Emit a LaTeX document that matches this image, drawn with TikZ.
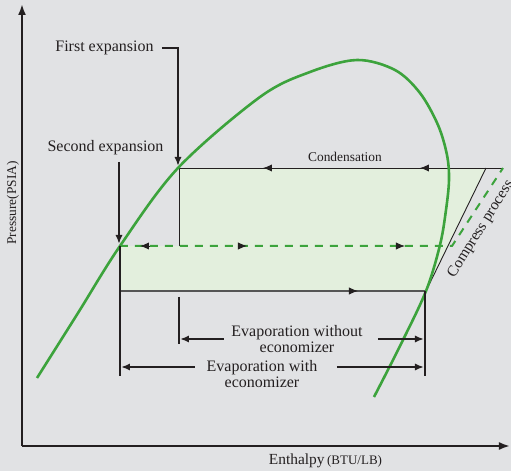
\documentclass[tikz,border=0pt]{standalone}
\usepackage{fontspec}
\setmainfont{Liberation Serif}
\usetikzlibrary{arrows.meta}
\definecolor{bg}{RGB}{225,226,228}
\definecolor{curvegreen}{RGB}{60,163,60}
\definecolor{fillgreen}{RGB}{227,239,221}
\definecolor{ink}{RGB}{35,31,32}
\definecolor{baseline}{RGB}{85,85,85}
\begin{document}
\begin{tikzpicture}[x=0.5pt,y=-0.5pt,
  lbl/.style={text=ink,inner sep=0pt,font=\fontsize{8}{8}\selectfont},
  smalllbl/.style={text=ink,inner sep=0pt,font=\fontsize{6.7}{8}\selectfont},
  tip/.style={-{Latex[length=4.5pt,width=3.6pt]}},
  axis/.style={draw=ink,line width=1pt,-{Latex[length=5.5pt,width=4pt]}},
  dimline/.style={draw=ink,line width=1.1pt},
  thinline/.style={draw=ink,line width=0.45pt},
  greenline/.style={draw=curvegreen,line width=1.3pt},
  greendash/.style={draw=curvegreen,line width=1pt,dash pattern=on 4pt off 3.5pt}]
\fill[bg] (0,0) rectangle (511,471);
\useasboundingbox (0,0) rectangle (511,471);

% key points
\coordinate (A) at (120,246);
\coordinate (B) at (179,168);
\coordinate (C) at (486,168);
\coordinate (D) at (426,291);
\coordinate (E) at (120,291);
\coordinate (F) at (179,246);
\coordinate (G) at (503,168);
\coordinate (H) at (452,246);

% shaded region
\fill[fillgreen] (A) -- (F) -- (B) -- (C) -- (D) -- (E) -- cycle;

% axes
\coordinate (O) at (22,446);
\coordinate (Ytop) at (22,4);
\coordinate (Xend) at (510,446);
\draw[axis] (O) -- (Ytop);
\draw[axis] (O) -- (Xend);

% cycle lines
\draw[thinline] (F) -- (B);
\draw[thinline] (B) -- (G);
\draw[thinline] (C) -- (D);
\draw[draw=baseline,line width=0.8pt] (E) -- (D);
\draw[greendash] (A) -- (H) -- (G);

% mid-line arrow tips
\draw[tip,ink] (272,168) -- (263,168);
\draw[tip,ink] (429,168) -- (420,168);
\draw[tip,ink] (349,291) -- (358,291);
\draw[tip,ink] (149,246) -- (140,246);
\draw[tip,ink] (238,246) -- (247,246);
\draw[tip,ink] (396,246) -- (405,246);

% saturation curve
\draw[greenline] plot[smooth,tension=0.55] coordinates
  {(37,378) (78,313) (120,246) (178,168) (260,97) (310,72) (357,60) (395,70) (420,93) (438,125) (447,155) (449,180) (446,210) (440,245) (426,291) (400,346) (374,397)};

% labels
\node[lbl,anchor=east] (fe) at (154,48) {First expansion};
\draw[dimline,tip] (162,48) -| (178,166);
\node[lbl] (se) at (105.5,148) {Second expansion};
\draw[dimline,tip] (119,162) -- (119,244);
\node[smalllbl] (cond) at (345,157) {Condensation};
\node[text=ink,inner sep=0pt,font=\fontsize{7.7}{8}\selectfont,rotate=58] (comp) at (481,229) {Compress process};
\node[smalllbl,rotate=90] (pr) at (13,203) {Pressure(PSIA)};
\node[text=ink,inner sep=0pt] (en) at (325.5,461) {\fontsize{7.7}{8}\selectfont Enthalpy\,\fontsize{6.5}{8}\selectfont(BTU/LB)};

% dimension lines
\coordinate (L1t) at (179,297);
\coordinate (L1b) at (179,344);
\coordinate (R1t) at (425,291);
\coordinate (R1b) at (425,376);
\coordinate (L2b) at (120,376);
\draw[dimline] (L1t) -- (L1b);
\draw[dimline] (R1t) -- (R1b);
\draw[dimline] (A) -- (L2b);

\node[lbl,align=center] (ewo) at (297,339) {Evaporation without\\[-0.3pt]economizer};
\node[lbl,align=center] (ew) at (262,374) {Evaporation with\\[-0.3pt]economizer};
\coordinate (a1) at (224,339);
\coordinate (a2) at (378,339);
\coordinate (b1) at (195,367);
\coordinate (b2) at (337,367);
\draw[dimline,tip] (a1) -- (180,339);
\draw[dimline,tip] (a2) -- (424,339);
\draw[dimline,tip] (b1) -- (121,367);
\draw[dimline,tip] (b2) -- (424,367);
\end{tikzpicture}
\end{document}
